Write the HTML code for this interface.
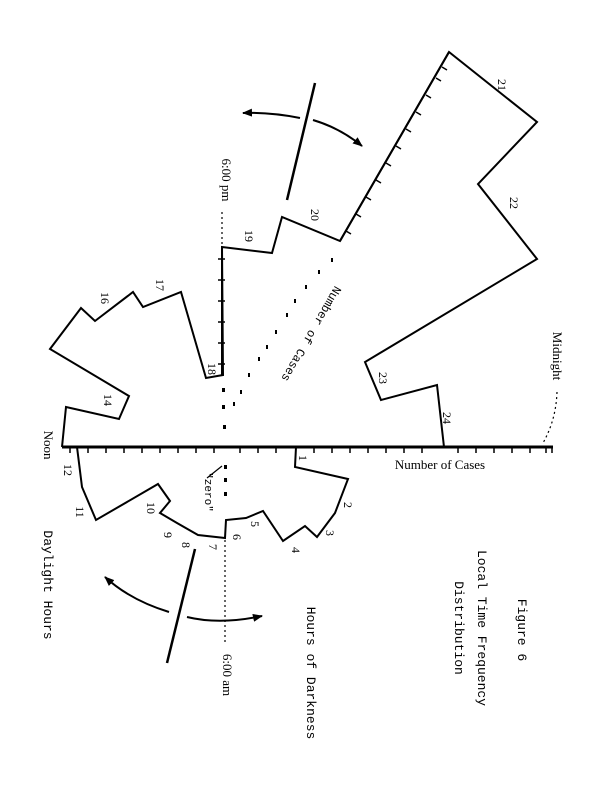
<!DOCTYPE html>
<html><head><meta charset="utf-8"><style>
html,body{margin:0;padding:0;background:#fff;}
svg{display:block;}
text{font-family:"Liberation Serif",serif;fill:#000;}
.m{font-family:"Liberation Mono",monospace;}
</style></head><body>
<svg width="600" height="798" viewBox="0 0 600 798" xmlns="http://www.w3.org/2000/svg">
<defs><marker id="ah" markerWidth="10" markerHeight="8" refX="9" refY="4" orient="auto" markerUnits="userSpaceOnUse"><path d="M0,0 L10,4 L0,8 z" fill="#000"/></marker></defs>
<g fill="none" stroke="#000" stroke-width="2" stroke-linejoin="miter">
<polyline points="62,447 66,407 119,419 129,396 50,349 81,308 95,321 133,292 143,307 181,292 206,378 223,375 222,247 272,253 282,217 340,241 449,52 537,122 478,184 537,259 365,362 381,400 437,385 444,447"/>
<polyline points="77,447 82,487 96,520 158,484 170,501 160,513 177,523 198,535 225,538 226,520 246,518 263,511 283,541 305,526 317,537 335,513 348,479 295,467 296,447"/>
<line x1="62" y1="447" x2="553" y2="447" stroke-width="3"/>
<line x1="222" y1="247" x2="222" y2="375"/>
<line x1="340" y1="241" x2="449" y2="52"/>
<line x1="315" y1="83" x2="287" y2="200" stroke-width="2.5"/>
<line x1="195" y1="549" x2="167" y2="663" stroke-width="2.5"/>
<path d="M300,118 Q270,112 243,113" marker-end="url(#ah)"/>
<path d="M313,120 Q340,128 362,146" marker-end="url(#ah)"/>
<path d="M169,612 Q130,600 105,577" marker-end="url(#ah)"/>
<path d="M187,617 Q220,625 262,616" marker-end="url(#ah)"/>
<line x1="207" y1="478" x2="222" y2="466" stroke-width="1.2"/>
</g>
<g stroke="#000" stroke-width="1.5">
<path d="M70,447v6M88,447v6M106,447v6M124,447v6M142,447v6M160,447v6M178,447v6M196,447v6M214,447v6M240,447v6M258,447v6M276,447v6M314,447v6M332,447v6M350,447v6M368,447v6M386,447v6M404,447v6M422,447v6M458,447v6M476,447v6M494,447v6M512,447v6M530,447v6M546,447v6M552,447v6"/>
<path d="M218,259h7M218,280h7M218,301h7M218,322h7M218,343h7M218,364h7"/>
<path d="M346,231l5,3M356,214l5,3M366,197l5,3M376,180l5,3M386,163l5,3M396,146l5,3M406,129l5,3M416,112l5,3M426,95l5,3M436,78l5,3M442,67l5,3"/>
</g>
<g stroke="#000" stroke-width="1.2" fill="none" stroke-dasharray="2,3">
<line x1="222" y1="212" x2="222" y2="247"/>
<line x1="225" y1="540" x2="225" y2="642"/>
<path d="M557,392 Q556,420 543,443"/>
</g>
<g fill="#000">
<rect x="222" y="388" width="3" height="4"/><rect x="222" y="405" width="3" height="4"/><rect x="223" y="425" width="3" height="4"/>
<rect x="224" y="465" width="3" height="4"/><rect x="224" y="478" width="3" height="4"/><rect x="224" y="492" width="3" height="4"/>
<rect x="331" y="258" width="2" height="4"/><rect x="318" y="270" width="2" height="4"/><rect x="305" y="285" width="2" height="4"/><rect x="294" y="299" width="2" height="4"/><rect x="286" y="313" width="2" height="4"/><rect x="275" y="330" width="2" height="4"/><rect x="266" y="345" width="2" height="4"/><rect x="258" y="357" width="2" height="4"/><rect x="248" y="373" width="2" height="4"/><rect x="240" y="390" width="2" height="4"/><rect x="233" y="402" width="2" height="4"/>
</g>
<g font-size="12" text-anchor="middle">
<text transform="translate(222,180) rotate(90)" font-size="13">6:00  pm</text>
<text transform="translate(553,356) rotate(90)" font-size="13">Midnight</text>
<text transform="translate(223,675) rotate(90)" font-size="13">6:00 am</text>
<text transform="translate(44,445) rotate(90)" font-size="13">Noon</text>
<text x="440" y="469" font-size="13">Number of Cases</text>
<text transform="translate(308,332) rotate(120)" class="m" font-size="12">Number  of  Cases</text>
<text transform="translate(44,585) rotate(90)" class="m" font-size="13">Daylight  Hours</text>
<text transform="translate(307,673) rotate(90)" class="m" font-size="13">Hours of Darkness</text>
<text transform="translate(518,630) rotate(90)" class="m" font-size="13">Figure  6</text>
<text transform="translate(478,628) rotate(90)" class="m" font-size="13">Local  Time  Frequency</text>
<text transform="translate(455,628) rotate(90)" class="m" font-size="13">Distribution</text>
<text transform="translate(205,492) rotate(90)" class="m" font-size="11">"zero"</text>
<text transform="translate(498,85) rotate(90)">21</text>
<text transform="translate(510,203) rotate(90)">22</text>
<text transform="translate(311,215) rotate(90)">20</text>
<text transform="translate(245,236) rotate(90)">19</text>
<text transform="translate(156,285) rotate(90)">17</text>
<text transform="translate(101,298) rotate(90)">16</text>
<text transform="translate(208,369) rotate(90)">18</text>
<text transform="translate(104,400) rotate(90)">14</text>
<text transform="translate(379,378) rotate(90)">23</text>
<text transform="translate(443,418) rotate(90)">24</text>
<text transform="translate(299,458) rotate(90)">1</text>
<text transform="translate(344,505) rotate(90)">2</text>
<text transform="translate(326,533) rotate(90)">3</text>
<text transform="translate(292,550) rotate(90)">4</text>
<text transform="translate(251,524) rotate(90)">5</text>
<text transform="translate(233,537) rotate(90)">6</text>
<text transform="translate(209,547) rotate(90)">7</text>
<text transform="translate(182,545) rotate(90)">8</text>
<text transform="translate(164,535) rotate(90)">9</text>
<text transform="translate(147,508) rotate(90)">10</text>
<text transform="translate(76,512) rotate(90)">11</text>
<text transform="translate(64,470) rotate(90)">12</text>
</g>
</svg>
</body></html>
